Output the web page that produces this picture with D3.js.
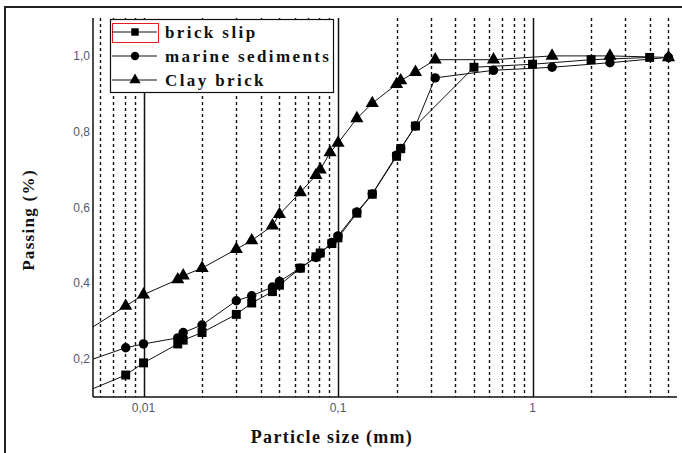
<!DOCTYPE html>
<meta charset="utf-8">
<style>
  body { margin: 0; background: #fff; }
  svg { position: absolute; top: 0; left: 0; }
  .tick-label { font-family: 'Liberation Sans', Arial, sans-serif; font-size: 12px; fill: #555770; }
  .title { font-family: 'Liberation Serif', 'Times New Roman', serif; font-weight: bold; fill: #111; }
  .legend-text { font-family: 'Liberation Serif', 'Times New Roman', serif; font-weight: bold; font-size: 17px; letter-spacing: 2.4px; fill: #111; }
</style>
<script src="https://d3js.org/d3.v7.min.js"></script>

<svg width="682" height="453"></svg>

<script>
  // particle sizes (mm) and passing fractions
  var sizeSlip = [0.0081, 0.01, 0.015, 0.016, 0.02, 0.03, 0.036, 0.046, 0.05, 0.064, 0.077, 0.081, 0.093, 0.1, 0.125, 0.15, 0.2, 0.21, 0.25, 0.5, 1, 2, 4];
  var passSlip = [0.158, 0.19, 0.24, 0.25, 0.27, 0.318, 0.348, 0.378, 0.395, 0.44, 0.47, 0.48, 0.505, 0.52, 0.585, 0.635, 0.735, 0.755, 0.815, 0.97, 0.978, 0.99, 0.996];

  var sizeMarine = [0.0081, 0.01, 0.015, 0.016, 0.02, 0.03, 0.036, 0.046, 0.05, 0.064, 0.077, 0.081, 0.093, 0.1, 0.125, 0.15, 0.2, 0.21, 0.25, 0.316, 0.63, 1.26, 2.5, 5];
  var passMarine = [0.23, 0.24, 0.256, 0.27, 0.29, 0.354, 0.367, 0.39, 0.405, 0.44, 0.468, 0.479, 0.508, 0.525, 0.588, 0.636, 0.738, 0.756, 0.815, 0.942, 0.962, 0.97, 0.982, 0.996];

  var sizeClay = [0.0081, 0.01, 0.015, 0.016, 0.02, 0.03, 0.036, 0.046, 0.05, 0.064, 0.077, 0.081, 0.091, 0.1, 0.125, 0.15, 0.2, 0.21, 0.25, 0.316, 0.63, 1.26, 2.5, 5];
  var passClay = [0.34, 0.37, 0.41, 0.42, 0.44, 0.49, 0.513, 0.552, 0.582, 0.64, 0.685, 0.70, 0.745, 0.77, 0.835, 0.875, 0.925, 0.935, 0.957, 0.99, 0.99, 1.0, 1.0, 0.996];

  // where each curve enters at the left edge of the plot (no marker there)
  var edgePass = [0.122, 0.2, 0.285];

  var seriesNames = ["brick slip", "marine sediments", "Clay brick"];
  var seriesSymbols = [d3.symbolSquare, d3.symbolCircle, d3.symbolTriangle];
  var yTickValues = [0.2, 0.4, 0.6, 0.8, 1.0];
  var xTickLabels = {0.01: "0,01", 0.1: "0,1", 1: "1"};

  var series = [
    {name: seriesNames[0], sym: seriesSymbols[0], xs: sizeSlip, ys: passSlip, edge: edgePass[0], size: 80},
    {name: seriesNames[1], sym: seriesSymbols[1], xs: sizeMarine, ys: passMarine, edge: edgePass[1], size: 70},
    {name: seriesNames[2], sym: seriesSymbols[2], xs: sizeClay, ys: passClay, edge: edgePass[2], size: 75}
  ];

  var svg = d3.select("svg");
  var pLeft = 93, pRight = 675, pTop = 18, pBottom = 397;

  var x = d3.scaleLog().domain([0.0055, 5.4]).range([pLeft, pRight]);
  var y = d3.scaleLinear().domain([0.1, 1.1]).range([pBottom, pTop]);

  // outer frame (top + left edges)
  svg.append("path").attr("d", "M5,453V7H682").attr("fill", "none").attr("stroke", "#222").attr("stroke-width", 2);

  svg.append("clipPath").attr("id", "plot").append("rect")
    .attr("x", pLeft).attr("y", pTop).attr("width", pRight - pLeft).attr("height", pBottom - pTop);

  // vertical grid
  var ticks = x.ticks();
  var isMajor = function(t) { return Math.abs(Math.log10(t) - Math.round(Math.log10(t))) < 1e-6; };
  svg.append("g").selectAll("line").data(ticks).enter().append("line")
    .attr("x1", function(d) { return Math.round(x(d)) + 0.5; })
    .attr("x2", function(d) { return Math.round(x(d)) + 0.5; })
    .attr("y1", pTop).attr("y2", pBottom)
    .attr("stroke", "#111")
    .attr("stroke-width", function(d) { return isMajor(d) ? 1.5 : 1.4; })
    .attr("stroke-dasharray", function(d) { return isMajor(d) ? null : "3,3"; });

  // axes lines
  svg.append("line").attr("x1", pLeft).attr("x2", pLeft).attr("y1", pTop).attr("y2", pBottom).attr("stroke", "#111").attr("stroke-width", 1.5);
  svg.append("line").attr("x1", pLeft).attr("x2", pRight + 2).attr("y1", pBottom).attr("y2", pBottom).attr("stroke", "#111").attr("stroke-width", 1.5);

  // tick labels
  svg.append("g").selectAll("text").data(yTickValues).enter().append("text")
    .attr("class", "tick-label")
    .attr("x", pLeft - 3).attr("y", function(d) { return y(d) + 4; })
    .attr("text-anchor", "end")
    .text(function(d) { return d3.format(".1f")(d).replace(".", ","); });

  svg.append("g").selectAll("text").data(ticks.filter(isMajor)).enter().append("text")
    .attr("class", "tick-label")
    .attr("x", function(d) { return x(d); }).attr("y", pBottom + 15)
    .attr("text-anchor", "middle")
    .text(function(d) { return xTickLabels[+d.toPrecision(3)]; });

  // axis titles
  svg.append("text").attr("class", "title")
    .attr("x", 332).attr("y", 443).attr("text-anchor", "middle")
    .style("font-size", "18px").style("letter-spacing", "1.3px")
    .text("Particle size (mm)");
  svg.append("text").attr("class", "title")
    .attr("transform", "translate(34,220) rotate(-90)").attr("text-anchor", "middle")
    .style("font-size", "17px").style("letter-spacing", "1.3px")
    .text("Passing (%)");

  // series lines, starting at the left edge of the plot
  var line = d3.line().x(function(d) { return x(d[0]); }).y(function(d) { return y(d[1]); });
  var plot = svg.append("g").attr("clip-path", "url(#plot)");
  series.forEach(function(s) {
    var pts = s.xs.map(function(v, i) { return [v, s.ys[i]]; });
    pts.unshift([x.domain()[0], s.edge]);
    plot.append("path").attr("d", line(pts))
      .attr("fill", "none").attr("stroke", "#111").attr("stroke-width", 1);
  });
  series.forEach(function(s) {
    var sym = d3.symbol().type(s.sym).size(s.size);
    svg.append("g").selectAll("path").data(s.xs).enter().append("path")
      .attr("transform", function(d, i) { return "translate(" + x(d) + "," + y(s.ys[i]) + ")"; })
      .attr("d", sym)
      .attr("fill", "#000");
  });

  // legend
  var lg = svg.append("g");
  lg.append("rect").attr("x", 110.5).attr("y", 19.5).attr("width", 223).attr("height", 73)
    .attr("fill", "#fff").attr("stroke", "#111").attr("stroke-width", 1.2);
  lg.append("rect").attr("x", 112.5).attr("y", 23.5).attr("width", 46).attr("height", 19)
    .attr("fill", "none").attr("stroke", "#e02020").attr("stroke-width", 1);
  series.forEach(function(s, i) {
    var cy = 32 + i * 24;
    lg.append("line").attr("x1", 112).attr("x2", 157).attr("y1", cy).attr("y2", cy)
      .attr("stroke", "#111").attr("stroke-width", 1);
    lg.append("path").attr("transform", "translate(135," + cy + ")")
      .attr("d", d3.symbol().type(s.sym).size(55)).attr("fill", "#000");
    lg.append("text").attr("class", "legend-text")
      .attr("x", 165).attr("y", cy + 6).text(s.name);
  });
</script>
